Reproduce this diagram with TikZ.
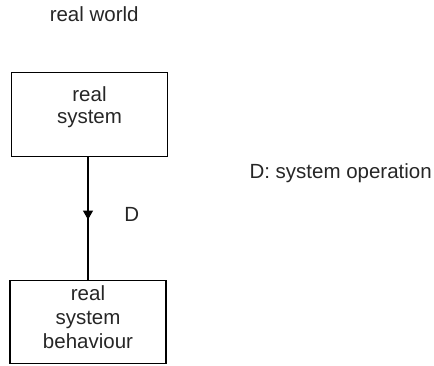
\documentclass[tikz,border=0pt]{standalone}
\usepackage{fontspec}
\setmainfont{Liberation Sans}
\usetikzlibrary{arrows.meta,decorations.markings}
\begin{document}
\begin{tikzpicture}[x=1pt,y=-1pt,
    txt/.style={inner sep=0pt,anchor=base,text=black!85,font=\fontsize{20.5}{22}\selectfont},
    box/.style={draw,line width=1.1pt,minimum width=156pt,inner sep=0pt},
    flow/.style={line width=1.1pt,postaction=decorate,
      decoration={markings,mark=at position 0.51 with {\arrow{Triangle[width=10pt,length=9pt]}}}}]
  \useasboundingbox (0,0) rectangle (434,365);

  % heading
  \node[txt] (world) at (94.2,21.7) {real world};

  % real system
  \node[box,minimum height=84.4pt] (rs) at (89.7,114.5) {};
  \node[txt] (rs1) at (89.5,101.7) {real};
  \node[txt] (rs2) at (89.5,123.3) {system};

  % real system behaviour
  \node[box,minimum height=83.3pt] (rsb) at (88,321.7) {};
  \node[txt] (rsb1) at (88,300) {real};
  \node[txt] (rsb2) at (88,324.5) {system};
  \node[txt] (rsb3) at (88,348.3) {behaviour};

  % system operation D
  \draw[flow] (rsb.north |- rs.south) -- (rsb.north);
  \node[txt] (d) at (131.7,221.7) {D};

  % legend
  \node[txt,anchor=base west] (legend) at (249.3,178.3) {D: system operation};
\end{tikzpicture}
\end{document}
